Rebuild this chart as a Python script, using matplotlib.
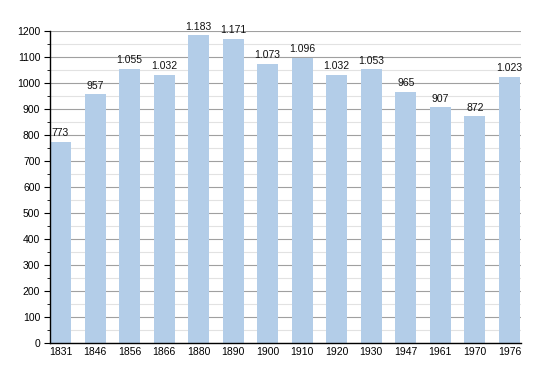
import matplotlib
matplotlib.use("Agg")
import matplotlib.pyplot as plt
from matplotlib.ticker import MultipleLocator

years = ["1831", "1846", "1856", "1866", "1880", "1890", "1900",
         "1910", "1920", "1930", "1947", "1961", "1970", "1976"]
population = [773, 957, 1055, 1032, 1183, 1171, 1073,
              1096, 1032, 1053, 965, 907, 872, 1023]


def fmt(v):
    # thousands separator is a dot
    return f"{v:,}".replace(",", ".")


def main():
    plt.rcParams["font.family"] = ["Liberation Sans", "DejaVu Sans"]
    fig = plt.figure(figsize=(5.5, 3.73), dpi=100)
    ax = fig.add_axes([0.0909, 0.0804, 0.856, 0.8365])

    x = list(range(len(years)))
    ax.bar(x, population, width=0.61, color="#b3cde8", zorder=3)
    for xi, v in zip(x, population):
        ax.text(xi, v + 14, fmt(v), ha="center", va="bottom",
                fontsize=7.5, color="#111111", zorder=4)

    ax.set_xlim(-0.305, 13.33)
    ax.set_ylim(0, 1200)
    ax.set_xticks(x)
    ax.set_xticklabels(years)
    ax.yaxis.set_major_locator(MultipleLocator(100))
    ax.yaxis.set_minor_locator(MultipleLocator(50))
    ax.grid(True, axis="y", which="major", color="#a0a0a0", linewidth=0.8, zorder=1)
    ax.grid(True, axis="y", which="minor", color="#e2e2e2", linewidth=0.8, zorder=1)
    ax.tick_params(axis="x", length=0, labelsize=7.5, pad=3)
    ax.tick_params(axis="y", which="major", length=4, labelsize=7.5, pad=3)
    ax.tick_params(axis="y", which="minor", length=2)
    for side in ["top", "right"]:
        ax.spines[side].set_visible(False)
    ax.spines["left"].set_linewidth(1.0)
    ax.spines["bottom"].set_linewidth(1.0)
    ax.spines["left"].set_zorder(5)
    ax.spines["bottom"].set_zorder(5)

    fig.savefig("out.png", dpi=100)


if __name__ == "__main__":
    main()
